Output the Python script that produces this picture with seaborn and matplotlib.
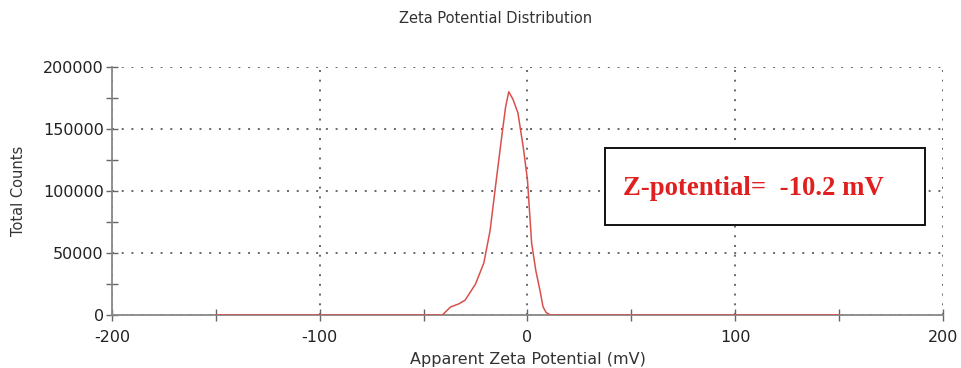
import matplotlib
matplotlib.use("Agg")
import matplotlib.pyplot as plt
import seaborn as sns
import pandas as pd
from matplotlib.ticker import MultipleLocator
from matplotlib.patches import Rectangle

zeta_mv = [-150, -100, -60, -45, -41, -37, -33, -30, -25, -21, -18, -15, -12, -10.5, -9, -7, -4.6, -2, 0, 2, 4, 6, 7.5, 9, 11, 20, 60, 100, 150]
counts = [0, 0, 0, 0, 0, 6500, 9000, 12000, 25000, 42000, 68000, 109000, 149000, 168000, 180000, 174000, 163000, 135000, 109000, 58000, 36000, 20000, 6500, 2000, 0, 0, 0, 0, 0]

x_ticks = [-200, -100, 0, 100, 200]
y_ticks = [0, 50000, 100000, 150000, 200000]

df = pd.DataFrame({"zeta": zeta_mv, "counts": counts})

sns.set_theme(style="white")
plt.rcParams['font.family'] = ['DejaVu Sans']

fig = plt.figure(figsize=(9.62, 3.68), dpi=100)
ax = fig.add_axes([0.1164, 0.144, 0.8638, 0.674])

sns.lineplot(data=df, x="zeta", y="counts", ax=ax, color="#d9504c", linewidth=1.1, zorder=3)

ax.set_xlim(-200, 200)
ax.set_ylim(0, 200000)
ax.set_xticks(x_ticks)
ax.set_yticks(y_ticks)
ax.set_xticklabels([str(v) for v in x_ticks])
ax.set_yticklabels([str(v) for v in y_ticks])
ax.xaxis.set_minor_locator(MultipleLocator(50))
ax.yaxis.set_minor_locator(MultipleLocator(25000))

ax.grid(True, which="major", linestyle=(0, (1, 4)), color="#666666", linewidth=1.4)
for s in ["top", "right"]:
    ax.spines[s].set_visible(False)
for s in ["left", "bottom"]:
    ax.spines[s].set_color("#888888")
    ax.spines[s].set_linewidth(1.3)

ax.tick_params(axis="both", which="both", direction="inout", length=8, width=1, color="#666666",
               labelsize=11.5, labelcolor="#222222", left=True, bottom=True)
ax.tick_params(axis="y", pad=2)
ax.tick_params(axis="x", pad=7)

ax.set_xlabel("Apparent Zeta Potential (mV)", fontsize=11.5, color="#333333", labelpad=5)
ax.set_ylabel("Total Counts", fontsize=10.5, color="#333333")
ax.yaxis.set_label_coords(-0.104, 0.5)
fig.text(0.515, 0.95, "Zeta Potential Distribution", ha="center", va="center", fontsize=10.5, color="#333333")

ax.add_patch(Rectangle((0.593, 0.363), 0.385, 0.31, transform=ax.transAxes, facecolor="white",
                       edgecolor="#111111", linewidth=1.4, zorder=5))
ax.text(0.615, 0.512, "Z-potential=  -10.2 mV", transform=ax.transAxes, ha="left", va="center",
        fontsize=19.3, fontweight="bold", color="#e02020", family=["Liberation Serif", "DejaVu Serif"],
        zorder=6)

fig.savefig("out.png", dpi=100)
